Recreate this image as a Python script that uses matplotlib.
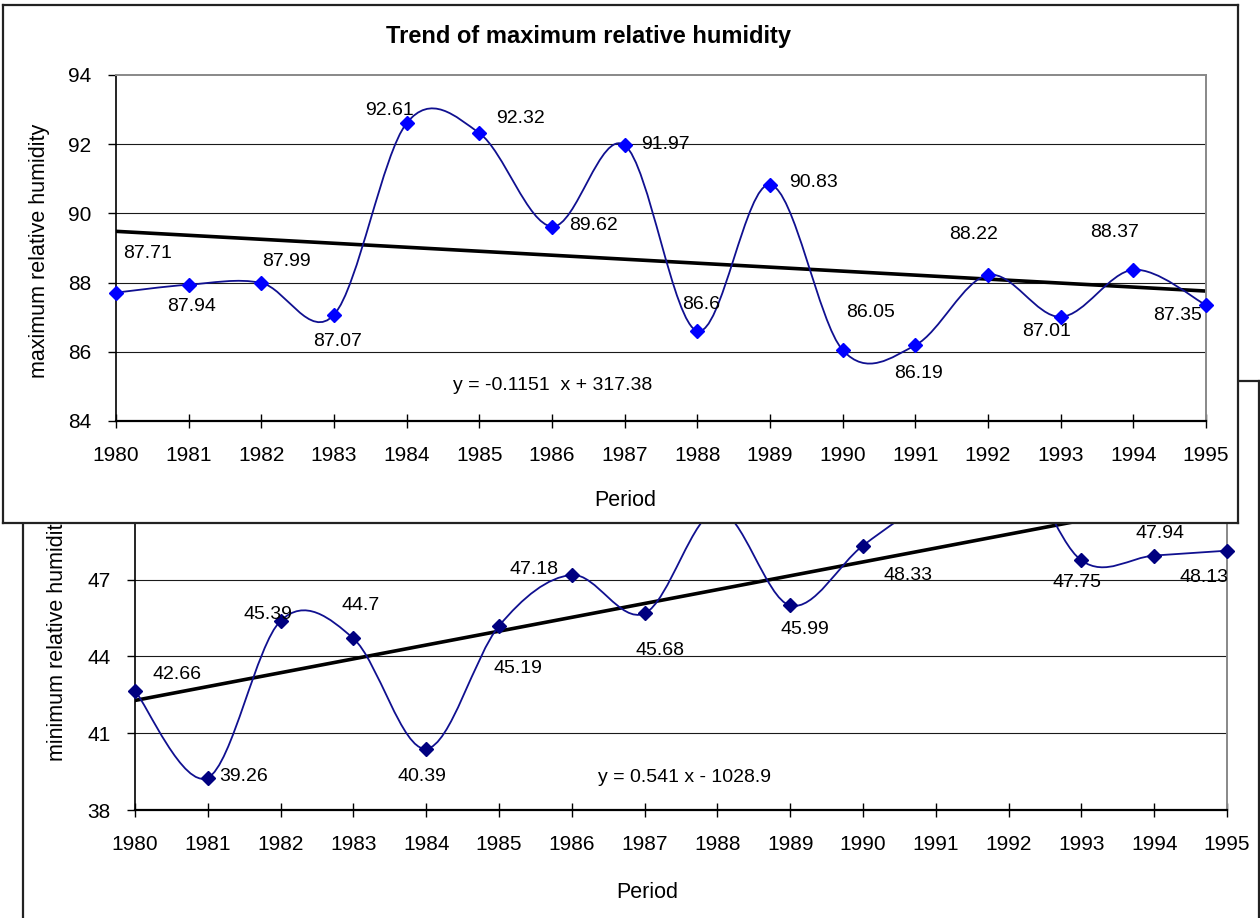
import matplotlib.pyplot as plt
import numpy as np
from matplotlib.path import Path
from matplotlib.patches import PathPatch

plt.rcParams['font.family'] = ['Liberation Sans', 'DejaVu Sans']

years = list(range(1980, 1996))

max_rh = [87.71, 87.94, 87.99, 87.07, 92.61, 92.32, 89.62, 91.97,
          86.6, 90.83, 86.05, 86.19, 88.22, 87.01, 88.37, 87.35]
# 1988, 1991 and 1992 are hidden behind the upper chart, values estimated
min_rh = [42.66, 39.26, 45.39, 44.7, 40.39, 45.19, 47.18, 45.68,
          49.7, 45.99, 48.33, 50.3, 52.0, 47.75, 47.94, 48.13]

max_slope, max_icpt = -0.1151, 317.38
min_slope, min_icpt = 0.541, -1028.9

max_ticks = [84, 86, 88, 90, 92, 94]
min_ticks = [38, 41, 44, 47, 50, 53]

# label offsets in pixels (dx, dy)
max_off = [(32, 39), (3, -22), (25, 21), (4, -27), (-17, 13), (41, 15), (42, 1), (41, 1),
           (4, 27), (43, 2), (28, 38), (3, -28), (-14, 40), (-14, -15), (-19, 37), (-28, -10)]
min_off = [(42, 16), (36, 1), (-13, 6), (7, 33), (-4, -28), (19, -43), (-38, 5), (15, -37),
           (0, 20), (15, -24), (45, -30), (0, 20), (0, 20), (-4, -22), (6, 22), (-23, -27)]

W, H = 1260, 918


def box(l, t, r, b):
    return [l / W, 1 - b / H, (r - l) / W, (b - t) / H]


def smooth_path(x, y):
    # excel-like smoothed line: catmull-rom bezier through the points
    pts = np.column_stack([x, y]).astype(float)
    n = len(pts)
    verts = [pts[0]]
    codes = [Path.MOVETO]
    for i in range(n - 1):
        p0 = pts[max(i - 1, 0)]
        p1 = pts[i]
        p2 = pts[i + 1]
        p3 = pts[min(i + 2, n - 1)]
        verts += [p1 + (p2 - p0) / 6, p2 - (p3 - p1) / 6, p2]
        codes += [Path.CURVE4] * 3
    return Path(verts, codes)


def frame(rect, z):
    fr = fig.add_axes(rect, zorder=z)
    fr.set_xticks([])
    fr.set_yticks([])
    for s in fr.spines.values():
        s.set_color('#222222')
        s.set_linewidth(1.6)
    return fr


def plot_panel(ax, vals, ticks, slope, icpt, offs, mcolor):
    ax.set_xlim(1980, 1995)
    ax.set_ylim(ticks[0], ticks[-1])
    ax.set_xticks(years)
    ax.set_yticks(ticks)
    ax.tick_params(axis='x', direction='inout', length=10, width=1, labelsize=15, pad=13)
    ax.tick_params(axis='y', direction='out', length=5.8, width=1, labelsize=15, pad=12)
    for t in ticks[1:-1]:
        ax.axhline(t, color='#1a1a1a', lw=0.8, zorder=1)
    ax.spines['left'].set_color('black')
    ax.spines['bottom'].set_color('black')
    ax.spines['left'].set_linewidth(1.2)
    ax.spines['bottom'].set_linewidth(1.6)
    for s in ['top', 'right']:
        ax.spines[s].set_color('#888888')
        ax.spines[s].set_linewidth(1.4)
    ax.add_patch(PathPatch(smooth_path(years, vals), fill=False, edgecolor='#101090',
                           lw=1.3, zorder=3))
    ax.plot(years, vals, 'D', color=mcolor, ms=7, mec=mcolor, zorder=4, clip_on=False)
    xs = np.array([years[0], years[-1]])
    ax.plot(xs, slope * xs + icpt, color='black', lw=2.6, zorder=2)
    for x, v, (dx, dy) in zip(years, vals, offs):
        ax.annotate(str(v), (x, v), xytext=(dx, dy), textcoords='offset pixels',
                    ha='center', va='center', fontsize=14, zorder=5)


fig = plt.figure(figsize=(W / 100, H / 100), dpi=100)

# lower chart (partly hidden)
frame(box(23, 381, 1259, 960), 0)
ax_b = fig.add_axes(box(135, 426, 1227, 810), zorder=1)
plot_panel(ax_b, min_rh, min_ticks, min_slope, min_icpt, min_off, '#000080')
fig.text(685 / W, 1 - 777 / H, f'y = {min_slope} x - {abs(min_icpt)}', ha='center', va='center',
         fontsize=14, zorder=1.5)
fig.text(647 / W, 1 - 892 / H, 'Period', ha='center', va='center', fontsize=15.5, zorder=1.5)
fig.text(58 / W, 1 - 637 / H, 'minimum relative humidity', rotation=90, ha='center',
         va='center', fontsize=15.5, zorder=0.5)

# upper chart
frame(box(3, 5, 1238, 523), 2)
ax_t = fig.add_axes(box(116, 75, 1206, 421), zorder=3)
plot_panel(ax_t, max_rh, max_ticks, max_slope, max_icpt, max_off, '#0000FF')
fig.text(589 / W, 1 - 36 / H, 'Trend of maximum relative humidity', ha='center', va='center',
         fontsize=17, fontweight='bold', zorder=4)
fig.text(553 / W, 1 - 385 / H, f'y = {max_slope}  x + {max_icpt}', ha='center', va='center',
         fontsize=14, zorder=4)
fig.text(625 / W, 1 - 500 / H, 'Period', ha='center', va='center', fontsize=15.5, zorder=4)
fig.text(40 / W, 1 - 251 / H, 'maximum relative humidity', rotation=90, ha='center',
         va='center', fontsize=15.5, zorder=4)

fig.savefig('out.png', dpi=100)
